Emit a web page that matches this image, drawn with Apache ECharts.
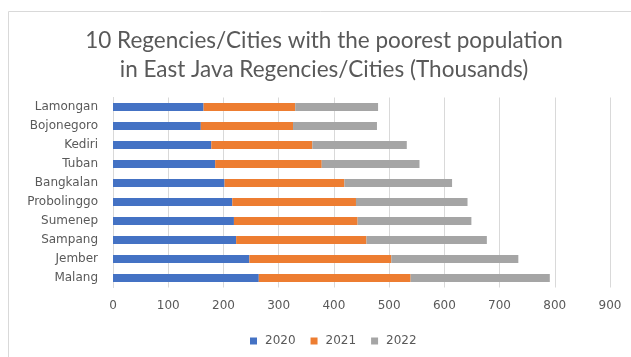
<!DOCTYPE html>
<html><head><meta charset="utf-8">
<script src="https://cdn.jsdelivr.net/npm/echarts@6/dist/echarts.min.js"></script>
<style>html,body{margin:0;padding:0;background:#fff}#c{width:631px;height:357px}</style>
</head><body><div id="c"></div>
<script>
const categories = ['Malang','Jember','Sampang','Sumenep','Probolinggo','Bangkalan','Tuban','Kediri','Bojonegoro','Lamongan'];
const s2020 = [264, 247, 223, 219, 216, 202, 185, 178, 159, 164];
const s2021 = [275, 257, 236, 224, 224, 217, 193, 183, 167, 166];
const s2022 = [252, 230, 218, 206, 202, 195, 177, 171, 152, 150];
const xTicks = [0,100,200,300,400,500,600,700,800,900];
const seriesNames = ['2020','2021','2022'];
const colors = ['#4472C4','#ED7D31','#A5A5A5'];
const chart = echarts.init(document.getElementById('c'), null, {renderer:'canvas'});
const lab = '"DejaVu Sans", sans-serif';
const mk = (name, data, i) => ({name, type:'bar', stack:'t', data, barWidth:8, itemStyle:{color:colors[i]}});
chart.setOption({
  animation:false,
  graphic:[{type:'rect', shape:{x:8.5,y:11.5,width:640,height:360}, style:{fill:'none',stroke:'#d9d9d9',lineWidth:1}, silent:true}],
  title:{text:'10 Regencies/Cities with the poorest population\nin East Java Regencies/Cities (Thousands)', left:319, textAlign:'center', top:21,
    textStyle:{fontFamily:'Lato, sans-serif', fontSize:22.5, fontWeight:'normal', color:'#595959', lineHeight:29}},
  legend:{top:330, left:245, itemWidth:7, itemHeight:7, itemGap:15, icon:'rect',
    textStyle:{fontFamily:lab, fontSize:12, color:'#595959', padding:[0,0,0,3]}, data:seriesNames},
  grid:{left:113, right:21, top:97.5, bottom:69.5, containLabel:false},
  xAxis:{type:'value', min:0, max:900, interval:100,
    axisLine:{show:false}, axisTick:{show:false},
    splitLine:{lineStyle:{color:'#d9d9d9'}},
    axisLabel:{fontFamily:lab, color:'#595959', fontSize:12, margin:12, formatter:v=>xTicks.includes(v)?String(v):''}},
  yAxis:{type:'category', data:categories,
    axisLine:{lineStyle:{color:'#d9d9d9'}}, axisTick:{show:false},
    axisLabel:{fontFamily:lab, color:'#595959', fontSize:12, margin:15}},
  series:[mk('2020',s2020,0), mk('2021',s2021,1), mk('2022',s2022,2)]
});
</script></body></html>
